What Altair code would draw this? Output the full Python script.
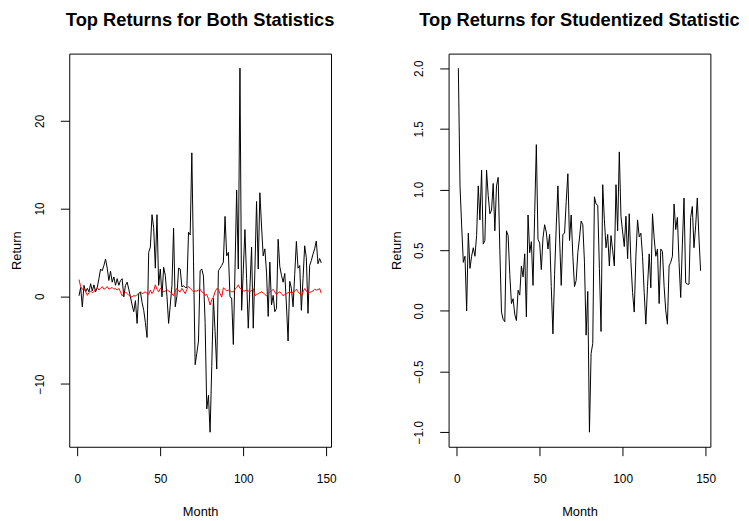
import altair as alt
import pandas as pd

months = list(range(1, 148))

both_top = [
    0.05, 1.0, -1.2, 1.24, 0.5, 0.9, 0.5, 1.43, 0.6, 1.3,
    0.5, 1.0, 2.0, 3.1, 2.9, 3.5, 4.25, 3.2, 1.8, 2.85,
    1.6, 2.2, 1.25, 2.0, 1.25, 1.8, 2.0, -0.07, 1.25, 1.6,
    0.8, -0.07, -1.0, -1.76, -0.5, -3.1, 0.3, 0.5, -0.7, -1.6,
    -3.0, -4.7, 5.0, 5.6, 9.3, 7.8, 3.2, 9.3, 1.24, 3.1,
    -0.07, 3.3, 2.4, 0.0, -3.1, -1.0, 1.2, 7.75, -1.2, 0.0,
    3.2, 3.1, 1.06, 1.2, 1.0, 1.0, 7.3, 7.0, 16.35, 4.0,
    -7.8, -6.5, -5.1, 2.93, 3.1, 2.3, -3.0, -12.85, -11.3, -15.5,
    -8.0, -0.26, -4.0, -8.3, 2.9, 3.2, 3.5, 3.9, 9.1, 4.6,
    5.0, -0.07, -0.2, -5.5, 3.0, 12.1, 3.1, 26.0, -1.6, 3.0,
    7.6, 2.0, -3.64, 1.0, 5.6, -3.64, 3.0, 10.8, 3.1, 11.8,
    8.0, 4.6, 5.4, 2.75, -2.3, 3.9, -1.0, 0.1, -1.76, -1.4,
    6.5, 3.4, 2.4, 1.6, 2.6, -1.0, -5.1, 1.7, 0.9, -1.2,
    2.5, 6.25, 3.2, 3.5, -1.6, 2.0, 5.75, 4.4, -1.95, 3.5,
    4.06, 4.8, 5.4, 6.3, 3.7, 4.3, 3.8,
]

both_stud = [
    1.9, 1.1, 0.8, 0.9, 0.5, 0.1, 0.4, 0.6, 0.4, 0.5,
    0.8, 1.0, 0.7, 0.9, 1.1, 0.8, 0.9, 1.1, 0.8, 0.9,
    1.0, 0.8, 0.9, 0.7, 0.9, 0.5, 0.05, 0.3, 0.5, 0.3,
    0.1, 0.0, -0.1, 0.1, 0.0, 0.2, 0.3, 0.5, 0.3, 0.4,
    0.5, 0.3, 0.2, 0.7, 0.3, 0.6, 1.3, 0.8, 0.5, 0.9,
    0.7, 0.5, 0.6, 0.75, 0.6, 0.5, 0.3, 0.05, 0.6, 0.9,
    0.6, 0.5, 0.9, 0.6, 0.3, 0.8, 1.1, 0.9, 0.7, 0.5,
    0.6, 0.6, 0.7, 0.8, 0.5, 0.4, 0.1, 0.2, -0.3, -1.0,
    -0.4, -0.1, 0.5, 0.87, 0.8, 0.3, -0.1, 0.96, 0.8, 0.6,
    0.7, 0.6, 0.5, 0.5, 0.8, 1.0, 1.3, 0.9, 0.8, 0.6,
    0.6, 0.7, 0.6, 0.5, 0.7, 0.87, 0.05, 0.2, 0.3, 0.4,
    0.5, 0.4, 0.2, 0.05, 0.3, 0.5, 0.6, 0.8, 0.5, 0.2,
    0.4, 0.5, 0.3, 0.05, 0.2, 0.3, 0.4, 0.5, 0.4, 0.4,
    0.6, 0.8, 0.5, 0.3, 0.1, 0.5, 0.87, 0.6, 0.4, 0.45,
    0.5, 0.6, 0.8, 0.7, 0.75, 0.87, 0.35,
]

stud_top = [
    2.00, 1.03, 0.70, 0.40, 0.45, 0.00, 0.64, 0.35, 0.45, 0.52,
    0.45, 0.62, 1.03, 0.75, 1.16, 0.55, 0.58, 1.16, 0.95, 0.80,
    0.83, 1.05, 0.66, 1.03, 1.10, 0.50, -0.01, -0.07, -0.09, 0.66,
    0.62, 0.30, 0.06, 0.10, -0.03, -0.08, 0.17, 0.13, 0.37, 0.28,
    0.47, -0.05, 0.79, 0.48, 0.57, 0.21, 0.80, 1.37, 0.59, 0.56,
    0.34, 0.60, 0.71, 0.65, 0.51, 0.63, 0.20, -0.19, 0.30, 0.70,
    1.03, 0.60, 0.21, 0.63, 0.64, 0.90, 1.13, 0.58, 0.79, 0.45,
    0.20, 0.25, 0.48, 0.60, 0.74, 0.71, 0.40, -0.20, 0.16, -1.00,
    -0.35, -0.27, 0.94, 0.88, 0.87, 0.35, -0.17, 1.04, 0.75, 0.52,
    0.63, 0.37, 0.62, 0.50, 0.37, 1.04, 0.66, 1.31, 0.78, 0.65,
    0.53, 0.78, 0.43, 0.80, 0.40, 0.15, -0.01, 0.45, 0.75, 0.61,
    0.64, 0.45, 0.15, -0.11, 0.20, 0.47, 0.19, 0.80, 0.60, 0.45,
    0.51, 0.06, 0.51, 0.49, 0.20, 0.00, -0.11, 0.37, 0.40, 0.45,
    0.88, 0.67, 0.77, 0.40, 0.11, 0.55, 0.93, 0.23, 0.22, 0.22,
    0.77, 0.86, 0.52, 0.70, 0.93, 0.60, 0.33,
]

x_ticks = [0, 50, 100, 150]
left_y_ticks = [-10, 0, 10, 20]
right_y_ticks = [-1.0, -0.5, 0.0, 0.5, 1.0, 1.5, 2.0]

df_left = pd.DataFrame({"Month": months, "Top": both_top, "Stud": both_stud})
df_right = pd.DataFrame({"Month": months, "Return": stud_top})

FONT = "Liberation Sans"
W, H = 265, 398


def x_enc(field="Month"):
    return alt.X(
        f"{field}:Q",
        scale=alt.Scale(domain=[-4.88, 152.88], nice=False, zero=False),
        axis=alt.Axis(values=x_ticks, title="Month", grid=False, domain=False,
                      tickSize=9, tickColor="black", labelPadding=18,
                      titlePadding=22, format="d"),
    )


def y_axis(values, fmt):
    return alt.Axis(values=values, title="Return", grid=False, domain=False,
                    tickSize=9, tickColor="black", labelAngle=270,
                    labelAlign="center", labelBaseline="bottom",
                    labelPadding=14, titlePadding=10, format=fmt)


left_y = alt.Scale(domain=[-17.16, 27.66], nice=False, zero=False)

left_black = alt.Chart(df_left).mark_line(color="black", strokeWidth=1).encode(
    x=x_enc(),
    y=alt.Y("Top:Q", scale=left_y, axis=y_axis(left_y_ticks, "d")),
)
left_red = alt.Chart(df_left).mark_line(color="#FF0000", strokeWidth=1).encode(
    x=x_enc(),
    y=alt.Y("Stud:Q", scale=left_y),
)

left = alt.layer(left_black, left_red).properties(
    width=W, height=H,
    title=alt.TitleParams("Top Returns for Both Statistics", frame="group",
                          anchor="middle", offset=24),
)

right = alt.Chart(df_right).mark_line(color="black", strokeWidth=1).encode(
    x=x_enc(),
    y=alt.Y("Return:Q", scale=alt.Scale(domain=[-1.12, 2.12], nice=False, zero=False),
            axis=y_axis(right_y_ticks, ".1f")),
).properties(
    width=W, height=H,
    title=alt.TitleParams("Top Returns for Studentized Statistic", frame="group",
                          anchor="middle", offset=24),
)

chart = alt.hconcat(left, right, spacing=119, bounds="flush").properties(
    padding={"left": 2, "top": 0, "right": 0, "bottom": 0},
    background="white",
).configure_view(
    stroke="black", strokeWidth=1,
).configure_axis(
    labelFont=FONT, labelFontSize=12, labelColor="black",
    titleFont=FONT, titleFontSize=13, titleFontWeight="normal", titleColor="black",
).configure_title(
    font=FONT, fontSize=18.5, fontWeight="bold", color="black",
)

chart.save("out.html", embed_options={"renderer": "svg", "actions": False})
